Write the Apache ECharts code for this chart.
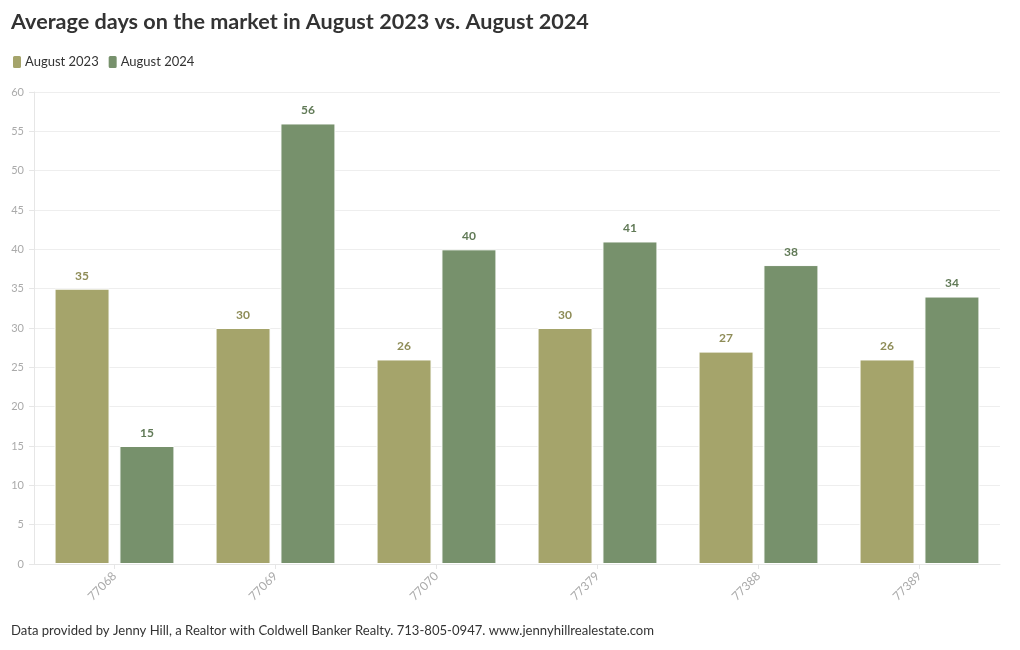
<!DOCTYPE html>
<html><head><meta charset="utf-8">
<script src="https://cdn.jsdelivr.net/npm/echarts@6/dist/echarts.min.js"></script>
<style>html,body{margin:0;padding:0;background:#fff}#c{width:1020px;height:650px}</style>
</head><body><div id="c"></div>
<script>
const categories = ['77068','77069','77070','77379','77388','77389'];
const aug2023 = [35,30,26,30,27,26];
const aug2024 = [15,56,40,41,38,34];
const yTicks = {min:0,max:60,interval:5};
const c23 = '#a5a46b', c24 = '#77916c';
const chart = echarts.init(document.getElementById('c'));
const font = 'Lato, "Open Sans", sans-serif';
chart.setOption({
  animation:false,
  textStyle:{fontFamily:font},
  title:{text:'Average days on the market in August 2023 vs. August 2024',left:11,top:11,padding:0,
    textStyle:{fontFamily:font,fontWeight:'bold',fontSize:21.6,color:'#333'}},
  legend:{left:11,top:54,padding:0,itemWidth:10,itemHeight:14,itemGap:8,icon:'roundRect',
    textStyle:{fontFamily:font,fontSize:13,color:'#333',padding:[0,0,0,-2]},
    data:['August 2023','August 2024']},
  graphic:[{type:'text',left:11,top:624,style:{text:'Data provided by Jenny Hill, a Realtor with Coldwell Banker Realty. 713-805-0947. www.jennyhillrealestate.com',
    font:'13.1px '+font,fill:'#333'}}],
  grid:{left:34,right:20,top:92,bottom:86,containLabel:false},
  xAxis:{type:'category',data:categories,
    axisLine:{lineStyle:{color:'#e6e6e6'}},
    axisTick:{show:true,alignWithLabel:true,length:5,lineStyle:{color:'#e6e6e6'}},
    axisLabel:{rotate:45,color:'#aaa',fontSize:12,margin:10}},
  yAxis:{type:'value',min:yTicks.min,max:yTicks.max,interval:yTicks.interval,
    axisLine:{show:true,lineStyle:{color:'#e6e6e6'}},
    axisTick:{show:true,length:5,lineStyle:{color:'#e6e6e6'}},
    splitLine:{lineStyle:{color:'#eeeeee'}},
    axisLabel:{color:'#aaa',fontSize:11,margin:10}},
  series:[
    {name:'August 2023',type:'bar',data:aug2023,barWidth:55,barGap:'18%',barCategoryGap:'26%',
     itemStyle:{color:c23,borderColor:'#fff',borderWidth:1},
     label:{show:true,position:'top',distance:7,color:'#8e8c57',fontWeight:'bold',fontSize:12,fontFamily:font}},
    {name:'August 2024',type:'bar',data:aug2024,barWidth:55,
     itemStyle:{color:c24,borderColor:'#fff',borderWidth:1},
     label:{show:true,position:'top',distance:7,color:'#617a57',fontWeight:'bold',fontSize:12,fontFamily:font}}
  ]
});
</script></body></html>
